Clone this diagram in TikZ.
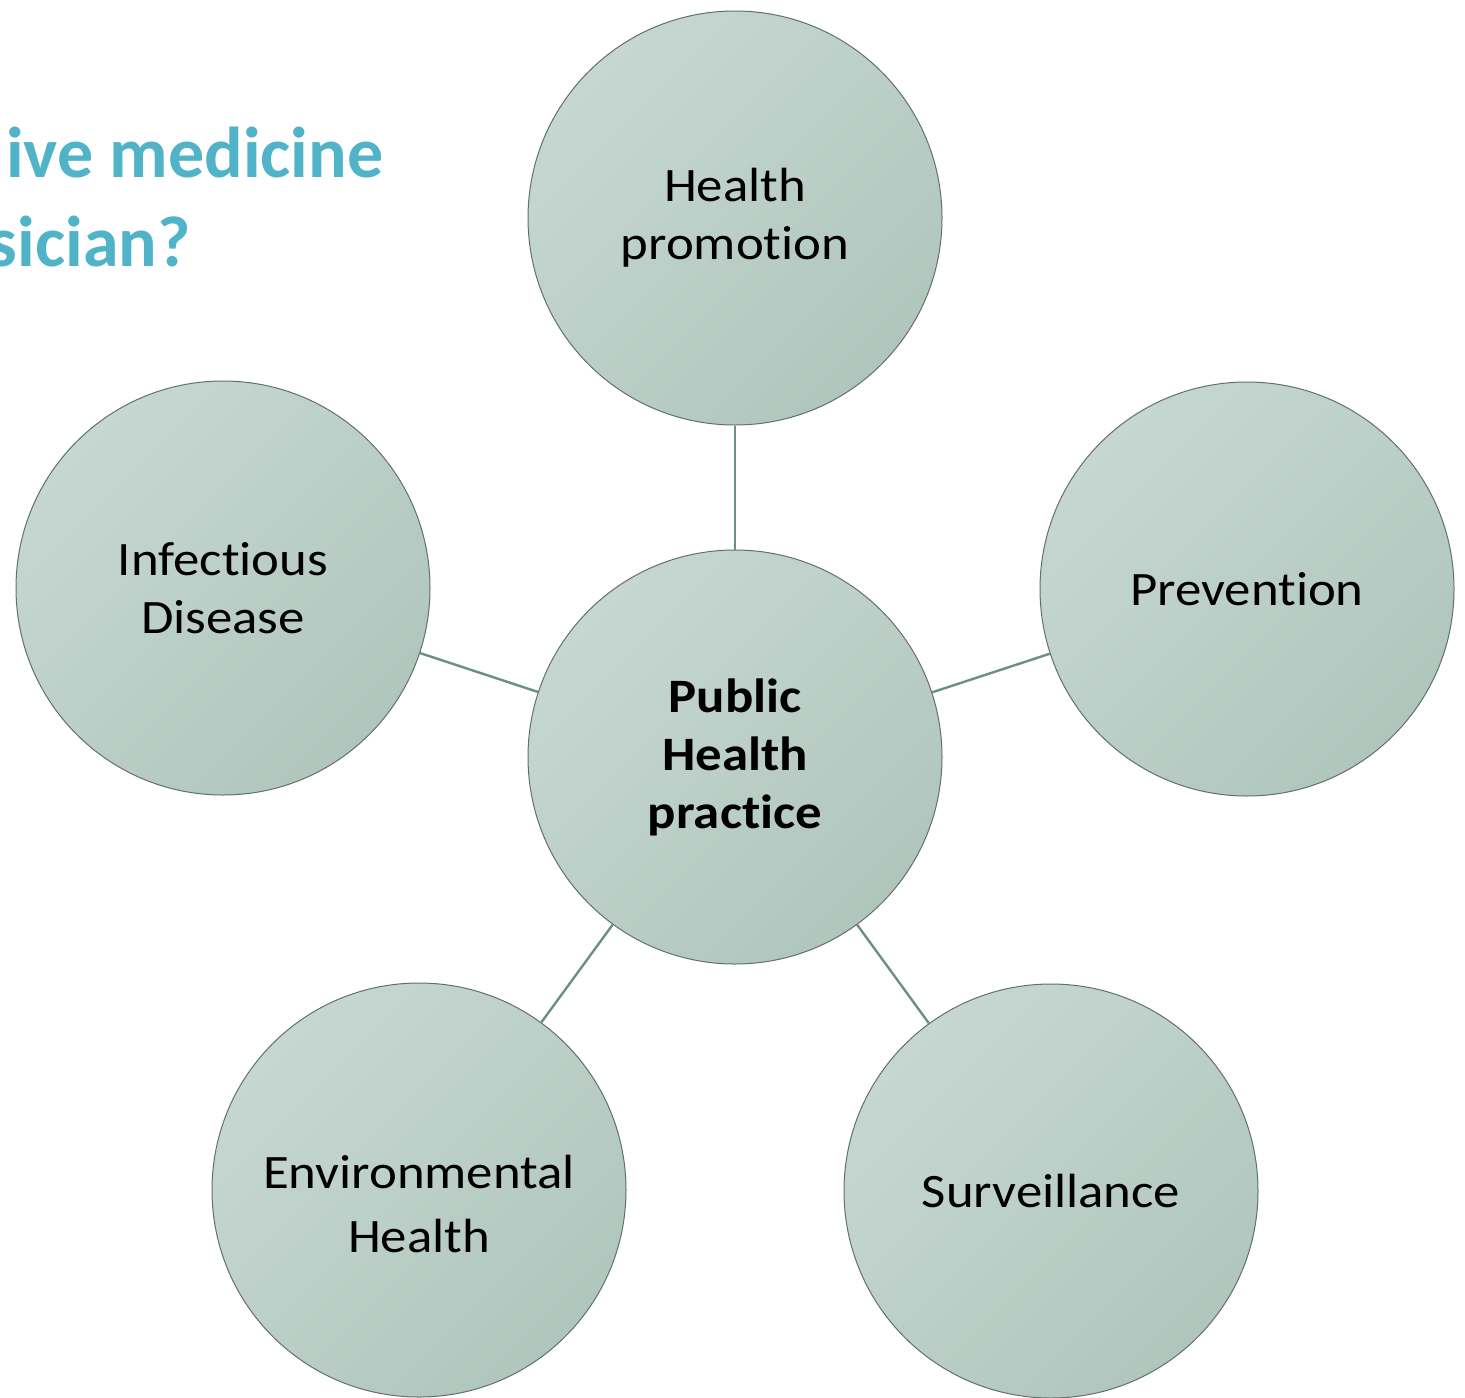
\documentclass[tikz,border=0pt]{standalone}
\usepackage{fontspec}
\setmainfont[Ligatures=NoCommon,FakeStretch=1.1]{Carlito}
\newfontfamily\headfont[Ligatures=NoCommon]{Carlito}
\usetikzlibrary{positioning}
\definecolor{bubbletop}{RGB}{198,215,209}
\definecolor{bubblebottom}{RGB}{176,198,189}
\definecolor{bubbleedge}{RGB}{98,112,106}
\definecolor{spoke}{RGB}{106,144,133}
\definecolor{heading}{RGB}{80,179,200}

\tikzset{
  bubble/.style={circle,draw=bubbleedge,line width=0.5pt,minimum size=207pt,inner sep=0pt,
    top color=bubbletop,bottom color=bubblebottom,shading angle=45,
    align=center,font=\fontsize{24}{29}\selectfont},
  bubbletext/.style={align=center,inner sep=0pt,font=\fontsize{24}{32}\selectfont},
  link/.style={draw=spoke,line width=1.2pt},
  headline/.style={text=heading,font=\headfont\fontsize{36}{45}\selectfont\bfseries,inner sep=0pt}
}

\begin{document}
\begin{tikzpicture}[x=0.5pt,y=-0.5pt]
  \useasboundingbox (0,0) rectangle (1465,1397);
  \clip (0,0) rectangle (1465,1397);
  % heading, cut at the left edge of the slide
  \node[headline,anchor=base east] (title1) at (384,177) {ive medicine};
  \node[headline,anchor=base east] (title2) at (191,266) {sician?};
  % hub and spokes
  \node[bubble,font=\fontsize{24}{29}\selectfont\bfseries] (hub) at (735,757) {Public\\Health\\practice};
  \node[bubble] (promo) at (735,218) {Health\\promotion};
  \node[bubble] (prev) at (1247,589) {Prevention};
  \node[bubble] (surv) at (1051,1191) {Surveillance};
  \node[bubble] (envh) at (419,1190) {};
  \node[bubbletext] (envhlabel) at (419,1204) {Environmental\\Health};
  \node[bubble] (infd) at (223,588) {Infectious\\Disease};
  \foreach \n in {promo,prev,surv,envh,infd}
    \draw[link] (hub) -- (\n);
\end{tikzpicture}
\end{document}
